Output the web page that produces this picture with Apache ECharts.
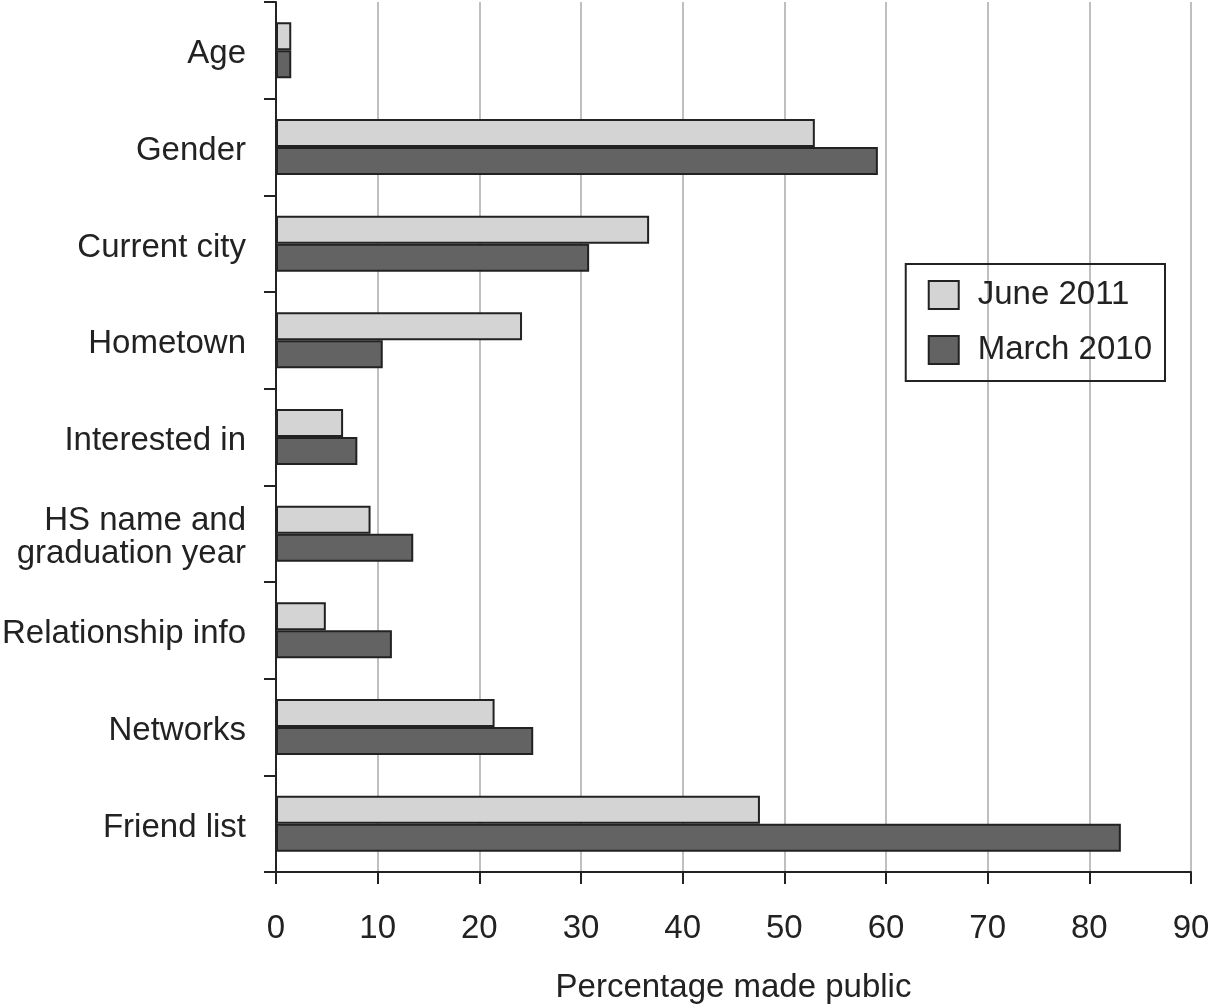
<!DOCTYPE html>
<html><head><meta charset="utf-8">
<script src="https://cdn.jsdelivr.net/npm/echarts@6/dist/echarts.min.js"></script>
<style>html,body{margin:0;padding:0;background:#fff}#c{width:1213px;height:1004px}</style>
</head><body><div id="c"></div>
<script>
const categories = ["Age","Gender","Current city","Hometown","Interested in","HS name and\ngraduation year","Relationship info","Networks","Friend list"];
const june2011 = [1.5, 53.0, 36.7, 24.2, 6.6, 9.3, 4.9, 21.5, 47.6];
const march2010 = [1.5, 59.2, 30.8, 10.5, 8.0, 13.5, 11.4, 25.3, 83.1];
const xTicks = [0,10,20,30,40,50,60,70,80,90];
const seriesNames = ["June 2011","March 2010"];

const FONT = '"Liberation Sans", Arial, Helvetica, sans-serif';
const FS = 33;
const chart = echarts.init(document.getElementById('c'), null, {renderer:'canvas'});
chart.setOption({
  animation:false,
  backgroundColor:'#fff',
  textStyle:{fontFamily:FONT},
  grid:{left:276, right:22, top:2, bottom:132, containLabel:false, outerBoundsMode:'none'},
  legend:{
    orient:'vertical', right:48, top:264,
    data:seriesNames,
    borderColor:'#222', borderWidth:2, borderRadius:0,
    padding:[14.5,13,14.5,22],
    itemWidth:30, itemHeight:28, itemGap:22,
    icon:'rect',
    textStyle:{fontSize:FS, color:'#222', fontFamily:FONT, padding:[0,0,0,14]}
  },
  xAxis:{
    type:'value', min:xTicks[0], max:xTicks[xTicks.length-1], interval:10,
    name:'Percentage made public', nameLocation:'middle', nameGap:99,
    nameTextStyle:{fontSize:FS, color:'#222', fontFamily:FONT},
    axisLine:{show:true, lineStyle:{color:'#222', width:2}},
    axisTick:{show:true, length:12, lineStyle:{color:'#222', width:2}},
    axisLabel:{fontSize:FS, color:'#222', margin:40, fontFamily:FONT},
    splitLine:{show:true, lineStyle:{color:'#aaa', width:1.5}}
  },
  yAxis:{
    type:'category', data:categories, inverse:true,
    axisLine:{show:true, lineStyle:{color:'#222', width:2}},
    axisTick:{show:true, length:12, alignWithLabel:false, lineStyle:{color:'#222', width:2}},
    axisLabel:{
      margin:30,
      formatter: v => '{pad|}\n' + v.split('\n').map(s => '{t|' + s + '}').join('\n'),
      rich:{
        pad:{height:8, lineHeight:8, fontSize:1},
        t:{fontSize:FS, color:'#222', lineHeight:33, fontFamily:FONT, align:'right'}
      }
    },
    splitLine:{show:false}
  },
  series:[
    {name:seriesNames[0], type:'bar', data:june2011, barWidth:28, barGap:'0%',
     itemStyle:{color:'#d4d4d4', borderColor:'#222', borderWidth:2}},
    {name:seriesNames[1], type:'bar', data:march2010, barWidth:28, barGap:'0%',
     itemStyle:{color:'#636363', borderColor:'#222', borderWidth:2}}
  ]
});
</script></body></html>
